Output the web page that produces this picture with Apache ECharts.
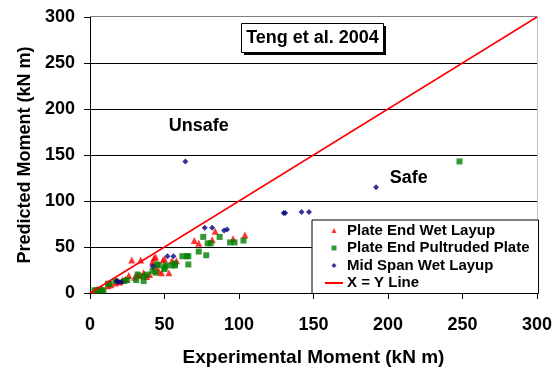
<!DOCTYPE html>
<html>
<head>
<meta charset="utf-8">
<script src="https://cdn.jsdelivr.net/npm/echarts@6/dist/echarts.min.js"></script>
<style>
  html, body { margin: 0; padding: 0; background: #fff; }
  #chart { width: 558px; height: 367px; }
</style>
</head>
<body>
<div id="chart"></div>
<script>
// Experimental vs predicted moment (kN m), Teng et al. 2004 model
const plateEndWetLayup = [
  [3, 3], [5, 4], [8, 5], [12, 8], [14, 9], [17, 11], [18, 13], [20, 12],
  [22, 14], [24, 15], [26, 19], [28, 36], [30, 17], [32, 20], [34, 36],
  [34, 19], [36, 22], [38, 18], [40, 20], [42, 34], [43, 38], [44, 39],
  [44, 28], [46, 24], [48, 22], [49, 36], [50, 37], [53, 22], [55, 35],
  [58, 35], [70, 57], [73, 54], [82, 58], [84, 67], [96, 59], [104, 63]
];
const plateEndPultruded = [
  [3, 3], [5, 3], [7, 3], [9, 3], [12, 10], [13, 10], [17, 13], [23, 13],
  [25, 14], [31, 14], [32, 20], [36, 13], [36, 18], [38, 20], [42, 24],
  [44, 22], [45, 31], [46, 30], [50, 26], [50, 28], [51, 30], [55, 30],
  [57, 30], [57, 32], [62, 40], [65, 40], [66, 40], [66, 31], [73, 45],
  [76, 61], [78, 41], [79, 54], [81, 54], [87, 61], [94, 55], [97, 55],
  [103, 57], [248, 143]
];
const midSpanWetLayup = [
  [18, 13], [19, 12], [21, 12], [42, 29], [52, 40], [56, 40], [64, 143],
  [77, 71], [82, 71], [90, 68], [92, 69], [130, 87], [131, 87], [142, 88],
  [147, 88], [192, 115]
];
const equalityLine = [[0, 0], [300, 300]];

const seriesNames = ['Plate End Wet Layup', 'Plate End Pultruded Plate', 'Mid Span Wet Layup', 'X = Y Line'];
const axisTicks = { min: 0, max: 300, step: 50 };
const titleText = 'Teng et al. 2004';
const xAxisTitle = 'Experimental Moment (kN m)';
const yAxisTitle = 'Predicted Moment (kN m)';
const zoneLabels = [
  { text: 'Unsafe', at: [73, 181.5] },
  { text: 'Safe', at: [214, 124.7] }
];

const FONT = '"Liberation Sans", Arial, sans-serif';
const chart = echarts.init(document.getElementById('chart'), null, { renderer: 'canvas' });

// small legend glyphs that keep their proportions inside the wide icon slot
const ICON_TRIANGLE = 'path://M0,10L5,0L10,10Z';
const ICON_SQUARE = 'path://M0,0L10,0L10,10L0,10Z';
const ICON_DIAMOND = 'path://M5,0L10,5L5,10L0,5Z';

const valueAxis = (name, isX) => ({
  type: 'value',
  min: axisTicks.min,
  max: axisTicks.max,
  interval: axisTicks.step,
  name: name,
  nameLocation: 'middle',
  nameGap: isX ? 55 : 55,
  nameTextStyle: { fontFamily: FONT, fontWeight: 'bold', fontSize: isX ? 19 : 18, color: '#000' },
  axisLine: { show: true, lineStyle: { color: '#000', width: 1 } },
  axisTick: { show: true, inside: false, length: 6, lineStyle: { color: '#000' } },
  axisLabel: {
    fontFamily: FONT, fontWeight: 'bold', fontSize: 18, color: '#000',
    margin: isX ? 23 : 15
  },
  splitLine: isX ? { show: false } : { show: true, showMinLine: false, showMaxLine: false, lineStyle: { color: '#000', width: 1 } }
});

chart.setOption({
  animation: false,
  backgroundColor: '#fff',
  grid: {
    left: 90, right: 21, top: 17, bottom: 74,
    outerBoundsMode: 'none', containLabel: false,
    show: true, borderColor: 'transparent', backgroundColor: '#fff'
  },
  xAxis: valueAxis(xAxisTitle, true),
  yAxis: valueAxis(yAxisTitle, false),
  legend: {
    orient: 'vertical',
    left: 312,
    top: 220,
    data: [
      { name: seriesNames[0], icon: ICON_TRIANGLE },
      { name: seriesNames[1], icon: ICON_SQUARE },
      { name: seriesNames[2], icon: ICON_DIAMOND },
      { name: seriesNames[3], itemStyle: { opacity: 0 } }
    ],
    symbolKeepAspect: true,
    itemWidth: 18,
    itemHeight: 5,
    itemGap: 2.5,
    padding: [3, 9, 3, 12],
    backgroundColor: '#fff',
    borderColor: '#000',
    borderWidth: 1,
    borderRadius: 0,
    textStyle: { fontFamily: FONT, fontWeight: 'bold', fontSize: 15, color: '#000', padding: [0, 0, 0, -1] }
  },
  series: [
    {
      name: seriesNames[0], type: 'scatter', symbol: 'triangle', symbolSize: 7,
      itemStyle: { color: '#ff0000' }, data: plateEndWetLayup, z: 3
    },
    {
      name: seriesNames[1], type: 'scatter', symbol: 'rect', symbolSize: 6,
      itemStyle: { color: '#008000' }, data: plateEndPultruded, z: 3
    },
    {
      name: seriesNames[2], type: 'scatter', symbol: 'diamond', symbolSize: 6,
      itemStyle: { color: '#000080' }, data: midSpanWetLayup, z: 4
    },
    {
      name: seriesNames[3], type: 'line', symbol: 'none', data: equalityLine,
      lineStyle: { color: '#ff0000', width: 1.5 }, z: 5,
      markPoint: {
        symbol: 'rect',
        symbolSize: 1,
        itemStyle: { color: 'transparent' },
        label: {
          show: true, position: 'inside', fontFamily: FONT, fontWeight: 'bold', fontSize: 18, color: '#000',
          formatter: p => p.name
        },
        data: zoneLabels.map(z => ({ name: z.text, coord: z.at }))
      }
    }
  ],
  graphic: [
    // plot frame: top and right edges
    { type: 'line', shape: { x1: 90, y1: 16.5, x2: 537.5, y2: 16.5 }, style: { stroke: '#808080', lineWidth: 1 }, z: 1 },
    { type: 'line', shape: { x1: 537.5, y1: 16.5, x2: 537.5, y2: 293 }, style: { stroke: '#c0c0c0', lineWidth: 1 }, z: 1 },
    // title box with drop shadow
    { type: 'rect', shape: { x: 244, y: 26, width: 142, height: 29 }, style: { fill: '#000' }, z: 10 },
    { type: 'rect', shape: { x: 241.5, y: 23.5, width: 142, height: 29 }, style: { fill: '#fff', stroke: '#000', lineWidth: 1 }, z: 11 },
    {
      type: 'text', x: 312.5, y: 38.5, z: 12,
      style: { text: titleText, fontFamily: FONT, fontWeight: 'bold', fontSize: 18, fill: '#000', align: 'center', verticalAlign: 'middle' }
    }
  ]
});
</script>
</body>
</html>
